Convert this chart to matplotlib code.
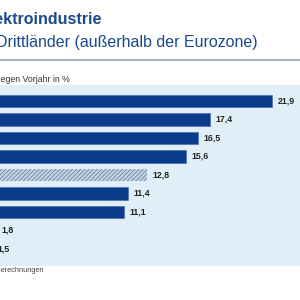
import matplotlib.pyplot as plt

plt.rcParams['font.family'] = ['Liberation Sans', 'DejaVu Sans']
plt.rcParams['hatch.linewidth'] = 0.5

# Veränderung gegen Vorjahr in % (Balken von oben nach unten)
werte = [21.9, 17.4, 16.5, 15.6, 12.8, 11.4, 11.1, 1.8, 1.5]
schraffiert = [False, False, False, False, True, False, False, False, False]
beschriftungen = ["21,9", "17,4", "16,5", "15,6", "12,8", "11,4", "11,1", "1,8", "1,5"]

blau = '#0b3c8c'
hintergrund = '#e0eef7'

fig = plt.figure(figsize=(3, 3), dpi=100)

# Diagramm ragt links über den Bildrand hinaus (Ausschnitt)
ax = fig.add_axes([-29 / 300, 1 - 266 / 300, 329 / 300, 181 / 300])
ax.set_facecolor(hintergrund)

pos = list(range(len(werte)))
for p, w, s in zip(pos, werte, schraffiert):
    if s:
        ax.barh(p, w, height=0.68, color='#c2d2e2', edgecolor='#5d7a9a',
                hatch='////////', linewidth=0)
    else:
        ax.barh(p, w, height=0.68, color=blau, edgecolor='#3f6aa8', linewidth=0.4)

for p, w, t in zip(pos, werte, beschriftungen):
    ax.annotate(t, (w, p), xytext=(4, 0), textcoords='offset points',
                va='center', ha='left', fontsize=6.3, fontweight='bold', color='#222222')

ax.set_xlim(0, 329 / 13.75)
ax.set_ylim(8.92, -0.865)
for sp in ax.spines.values():
    sp.set_visible(False)
ax.set_xticks([])
ax.set_yticks([])

# Titel
fig.text(102 / 300, 1 - 20 / 300, "Elektroindustrie", ha='right', va='center',
         fontsize=11.5, fontweight='bold', color='#1a4a8a')
fig.text(258 / 300, 1 - 42 / 300, "Drittländer (außerhalb der Eurozone)", ha='right',
         va='center', fontsize=11.5, color='#1a4a8a')
fig.add_artist(plt.Line2D([0, 1], [1 - 59.5 / 300] * 2, color='#8ea4bb', linewidth=1.2,
                          transform=fig.transFigure))
fig.text(70 / 300, 1 - 79.5 / 300, "Veränderung gegen Vorjahr in %", ha='right',
         va='center', fontsize=6.3, color='#333333')
fig.text(43 / 300, 1 - 270 / 300, "eigene Berechnungen", ha='right', va='center',
         fontsize=5.3, color='#444444')

fig.savefig('out.png', dpi=100)
